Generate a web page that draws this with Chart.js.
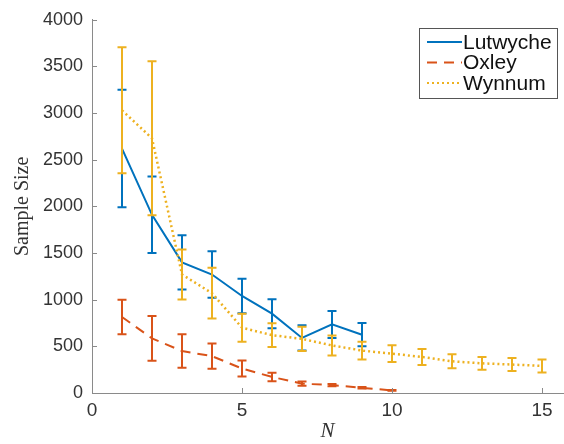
<!DOCTYPE html>
<html>
<head>
<meta charset="utf-8">
<script src="https://cdn.jsdelivr.net/npm/chart.js@4"></script>
<style>
  body { margin: 0; background: #fff; }
  #wrap { width: 564px; height: 444px; }
</style>
</head>
<body>
<div id="wrap"><canvas id="plot"></canvas></div>
<script>
// sample size vs N for three sites, with error bars
const seriesNames = ['Lutwyche', 'Oxley', 'Wynnum'];

const lutwycheN = [1, 2, 3, 4, 5, 6, 7, 8, 9];
const lutwycheMean = [2620, 1910, 1400, 1270, 1040, 850, 590, 735, 625];
const lutwycheErr = [630, 410, 290, 250, 185, 155, 135, 145, 125];

const oxleyN = [1, 2, 3, 4, 5, 6, 7, 8, 9, 10];
const oxleyMean = [815, 585, 450, 395, 262, 172, 100, 85, 55, 28];
const oxleyErr = [185, 240, 180, 135, 85, 45, 22, 12, 8, 5];

const wynnumN = [1, 2, 3, 4, 5, 6, 7, 8, 9, 10, 11, 12, 13, 14, 15];
const wynnumMean = [3030, 2730, 1270, 1070, 700, 620, 580, 510, 455, 422, 386, 340, 318, 305, 290];
const wynnumErr = [675, 825, 268, 272, 150, 128, 130, 107, 95, 90, 85, 75, 68, 70, 70];

const xTicks = [0, 5, 10, 15];
const yTicks = [0, 500, 1000, 1500, 2000, 2500, 3000, 3500, 4000];

const blue = '#0072BD';
const red = '#D95319';
const yellow = '#EDB120';
const axisGrey = '#8a8a8a';

function toPoints(xs, ys) {
    const pts = [];
    for (let i = 0; i < xs.length; i++) {
        pts.push({ x: xs[i], y: ys[i] });
    }
    return pts;
}

const errors = [lutwycheErr, oxleyErr, wynnumErr];

// vertical error bars with caps, drawn right after each line so overlap order matches
const errorBars = {
    id: 'errorBars',
    afterDatasetDraw(chart, args) {
        const ds = chart.data.datasets[args.index];
        const err = errors[args.index];
        const xs = chart.scales.x, ys = chart.scales.y;
        const c = chart.ctx;
        c.save();
        c.strokeStyle = ds.borderColor;
        c.lineWidth = 2;
        c.setLineDash([]);
        ds.data.forEach((p, i) => {
            const px = xs.getPixelForValue(p.x);
            const top = ys.getPixelForValue(p.y + err[i]);
            const bot = ys.getPixelForValue(Math.max(p.y - err[i], 0));
            c.beginPath();
            c.moveTo(px, top); c.lineTo(px, bot);
            c.moveTo(px - 4.5, top); c.lineTo(px + 4.5, top);
            c.moveTo(px - 4.5, bot); c.lineTo(px + 4.5, bot);
            c.stroke();
        });
        c.restore();
    }
};

// inward tick marks on the two axes
const innerTicks = {
    id: 'innerTicks',
    afterDraw(chart) {
        const xs = chart.scales.x, ys = chart.scales.y, a = chart.chartArea;
        const c = chart.ctx;
        c.save();
        c.strokeStyle = axisGrey;
        c.lineWidth = 1;
        c.beginPath();
        xTicks.forEach(v => {
            const px = Math.round(xs.getPixelForValue(v)) + 0.5;
            c.moveTo(px, a.bottom); c.lineTo(px, a.bottom - 5);
        });
        yTicks.forEach(v => {
            const py = Math.round(ys.getPixelForValue(v)) + 0.5;
            c.moveTo(a.left, py); c.lineTo(a.left + 5, py);
        });
        c.stroke();
        c.restore();
    }
};

// legend box in the top right corner of the axes
const boxLegend = {
    id: 'boxLegend',
    afterDraw(chart) {
        const c = chart.ctx;
        const bx = 419.5, by = 28.5, bw = 138, bh = 70;
        c.save();
        c.fillStyle = '#fff';
        c.fillRect(bx, by, bw, bh);
        c.strokeStyle = '#555';
        c.lineWidth = 1;
        c.strokeRect(bx, by, bw, bh);
        c.font = '21px "Liberation Sans", Arial, sans-serif';
        c.textBaseline = 'middle';
        c.fillStyle = '#111';
        chart.data.datasets.forEach((ds, i) => {
            const ry = 42 + i * 20.5;
            c.strokeStyle = ds.borderColor;
            c.lineWidth = 2;
            c.setLineDash(ds.borderDash || []);
            c.beginPath();
            c.moveTo(427, ry); c.lineTo(462, ry);
            c.stroke();
            c.setLineDash([]);
            c.fillText(seriesNames[i], 463, ry + 1);
        });
        c.restore();
    }
};

const ctx = document.getElementById('plot').getContext('2d');
const chart = new Chart(ctx, {
    type: 'line',
    data: {
        datasets: [{
            label: seriesNames[0],
            data: toPoints(lutwycheN, lutwycheMean),
            borderColor: blue,
            borderWidth: 2,
            pointRadius: 0,
            order: 2
        }, {
            label: seriesNames[1],
            data: toPoints(oxleyN, oxleyMean),
            borderColor: red,
            borderWidth: 2,
            borderDash: [10, 7],
            pointRadius: 0,
            order: 1
        }, {
            label: seriesNames[2],
            data: toPoints(wynnumN, wynnumMean),
            borderColor: yellow,
            borderWidth: 2.5,
            borderDash: [2, 3],
            pointRadius: 0,
            order: 0
        }]
    },
    options: {
        responsive: true,
        maintainAspectRatio: false,
        animation: false,
        layout: { padding: { top: 17, right: 1, left: 0, bottom: 0 } },
        plugins: {
            legend: { display: false },
            tooltip: { enabled: false }
        },
        scales: {
            x: {
                type: 'linear',
                min: 0,
                max: 15.7,
                afterBuildTicks: s => { s.ticks = xTicks.map(v => ({ value: v })); },
                afterFit: s => { s.height = 51; },
                grid: { display: false, drawTicks: false },
                border: { display: true, color: axisGrey, width: 1 },
                ticks: {
                    color: '#333',
                    padding: 6,
                    maxRotation: 0,
                    callback: v => String(v),
                    font: { family: '"Liberation Sans", Arial, sans-serif', size: 19 }
                },
                title: {
                    display: true,
                    text: 'N',
                    color: '#333',
                    padding: { top: 0, bottom: 0 },
                    font: { family: '"Liberation Serif", serif', size: 21, style: 'italic' }
                }
            },
            y: {
                min: 0,
                max: 4000,
                afterBuildTicks: s => { s.ticks = yTicks.map(v => ({ value: v })); },
                afterFit: s => { s.width = 92; },
                grid: { display: false, drawTicks: false },
                border: { display: true, color: axisGrey, width: 1 },
                ticks: {
                    color: '#333',
                    padding: 9,
                    callback: v => String(v),
                    font: { family: '"Liberation Sans", Arial, sans-serif', size: 18 }
                },
                title: {
                    display: true,
                    text: 'Sample Size',
                    color: '#333',
                    padding: { top: 11, bottom: 0 },
                    font: { family: '"Liberation Serif", serif', size: 20 }
                }
            }
        }
    },
    plugins: [errorBars, innerTicks, boxLegend]
});
</script>
</body>
</html>
